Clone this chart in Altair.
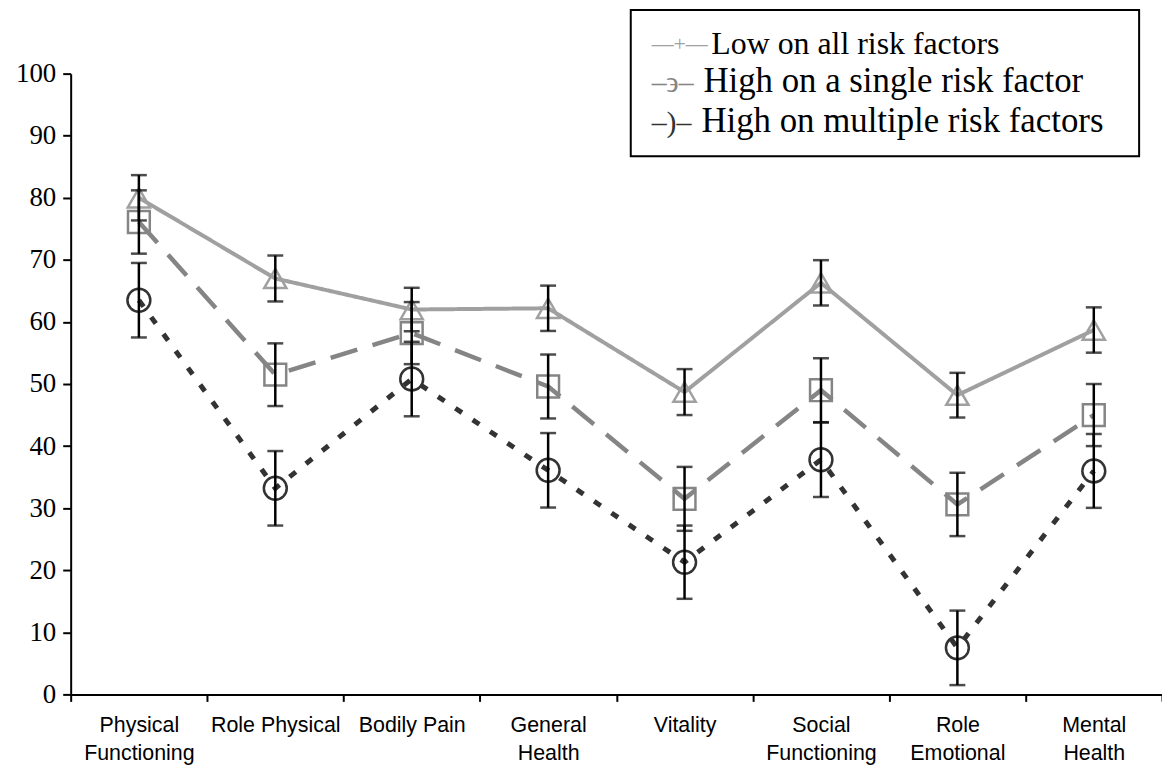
import altair as alt
import pandas as pd

categories = ["Physical\nFunctioning", "Role Physical", "Bodily Pain", "General\nHealth",
              "Vitality", "Social\nFunctioning", "Role\nEmotional", "Mental\nHealth"]

low = [80.0, 67.0, 62.0, 62.2, 48.7, 66.3, 48.2, 58.7]
low_err = [3.65, 3.7, 3.5, 3.65, 3.7, 3.65, 3.6, 3.65]
single = [76.1, 51.5, 58.2, 49.6, 31.5, 49.0, 30.6, 45.0]
single_err = [5.1, 5.05, 5.0, 5.15, 5.15, 5.15, 5.1, 5.0]
multi = [63.5, 33.2, 50.8, 36.1, 21.3, 37.8, 7.5, 36.0]
multi_err = [6.0, 6.0, 6.0, 6.0, 5.9, 6.0, 6.0, 5.95]

series_names = ["Low on all risk factors", "High on a single risk factor",
                "High on multiple risk factors"]
legend_symbols = ["\u2014+\u2014", "\u2013\u03f6\u2013", "\u2013)\u2013"]
colors = ["#a0a0a0", "#858585", "#333333"]

rows = []
for name, vals, errs in zip(series_names, [low, single, multi], [low_err, single_err, multi_err]):
    for c, v, e in zip(categories, vals, errs):
        rows.append({"series": name, "cat": c, "mean": v, "lo": v - e, "hi": v + e})
df = pd.DataFrame(rows)

xscale = alt.Scale(domain=categories, paddingInner=0, paddingOuter=0)
X = alt.X("cat:N", scale=xscale, sort=categories, bandPosition=0.5,
          axis=alt.Axis(title=None, labelAngle=0, tickBand="extent",
                        labelExpr="split(datum.label, '\\n')",
                        labelFont="Liberation Sans", labelFontSize=21.5,
                        labelLineHeight=28, labelColor="black", labelPadding=13,
                        labelBaseline="top",
                        domainColor="black", domainWidth=2, tickColor="black",
                        tickWidth=2, tickSize=7))
Y = alt.Y("mean:Q", scale=alt.Scale(domain=[0, 100], nice=False),
          axis=alt.Axis(title=None, values=list(range(0, 101, 10)), grid=False,
                        labelFont="Liberation Serif", labelFontSize=27,
                        labelColor="black", labelPadding=7,
                        domainColor="black", domainWidth=2, tickColor="black",
                        tickWidth=2, tickSize=8))

base = alt.Chart(df)

line_styles = [
    dict(strokeDash=[1, 0], strokeWidth=4),
    dict(strokeDash=[28, 16], strokeWidth=4.5),
    dict(strokeDash=[8, 13], strokeWidth=5),
]
shapes = ["triangle-up", "square", "circle"]
sizes = [500, 480, 530]

layers = []
for name, col, ls in zip(series_names, colors, line_styles):
    layers.append(base.transform_filter(alt.datum.series == name)
                  .mark_line(color=col, **ls).encode(x=X, y=Y))
for name, col, shp, sz in zip(series_names, colors, shapes, sizes):
    layers.append(base.transform_filter(alt.datum.series == name)
                  .mark_point(shape=shp, size=sz, filled=False, color=col,
                              strokeWidth=2.5, opacity=1).encode(x=X, y=Y))

Xp = alt.X("cat:N", scale=xscale, sort=categories, bandPosition=0.5)
layers.append(base.mark_rule(color="black", strokeWidth=2.5).encode(
    x=Xp, y=alt.Y("lo:Q"), y2="hi:Q"))
layers.append(base.mark_tick(orient="horizontal", color="black", size=16,
                             thickness=2.5).encode(x=Xp, y=alt.Y("lo:Q")))
layers.append(base.mark_tick(orient="horizontal", color="black", size=16,
                             thickness=2.5).encode(x=Xp, y=alt.Y("hi:Q")))

# legend box
one = alt.Chart(alt.Data(values=[{"k": 1}]))
layers.append(one.mark_rect(fill="white", stroke="black", strokeWidth=2).encode(
    x=alt.value(563), x2=alt.value(1074), y=alt.value(-64), y2=alt.value(83)))
legend_y = [-20, 18, 59]
sym_x = [584, 584, 584]
sym_size = [22, 30, 30]
txt_size = [32, 35, 35]
txt_x = [644, 636, 634]
for i in range(3):
    layers.append(one.mark_text(text=legend_symbols[i], font="Liberation Serif",
                                fontSize=sym_size[i], color=colors[i], align="left",
                                baseline="alphabetic").encode(
        x=alt.value(sym_x[i]), y=alt.value(legend_y[i] - (3 if i == 0 else 0))))
    layers.append(one.mark_text(text=series_names[i], font="Liberation Serif",
                                fontSize=txt_size[i], color="black", align="left",
                                baseline="alphabetic").encode(
        x=alt.value(txt_x[i]), y=alt.value(legend_y[i])))

chart = alt.layer(*layers).properties(
    width=1097, height=624,
    padding={"left": 63, "top": 64, "right": 0, "bottom": 70},
    autosize=alt.AutoSizeParams(type="none"),
    background="white",
).configure_view(strokeWidth=0, stroke="transparent")

chart.save("out.html", embed_options={"renderer": "svg", "actions": False})
